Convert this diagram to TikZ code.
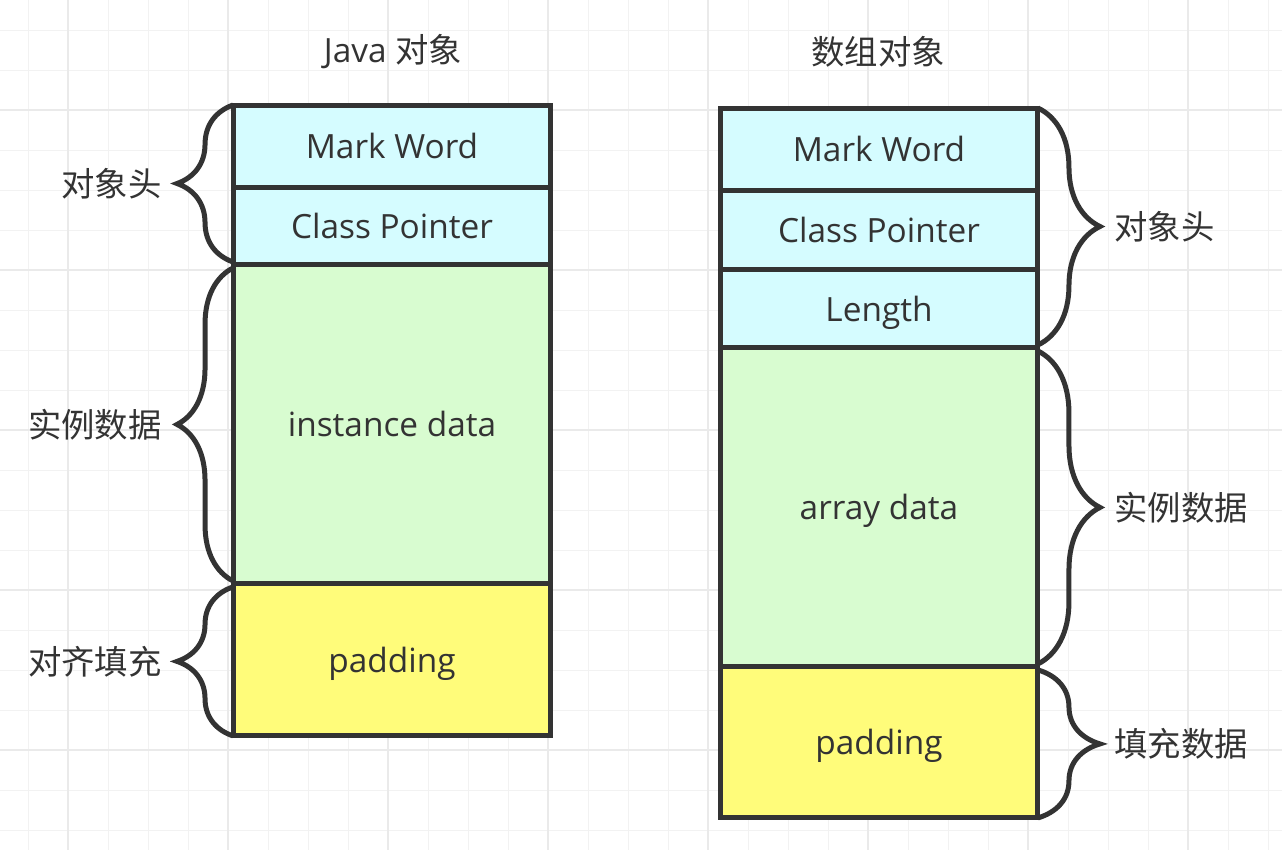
\documentclass[tikz,border=0pt]{standalone}
\usepackage{fontspec}
\setmainfont{Open Sans}
\newfontfamily\cjk{Noto Sans CJK SC}
\usetikzlibrary{positioning,decorations.pathreplacing}
\definecolor{ink}{HTML}{333333}
\definecolor{headcyan}{RGB}{213,252,255}
\definecolor{datagreen}{RGB}{216,252,208}
\definecolor{padyellow}{RGB}{255,252,122}
\definecolor{gridlight}{HTML}{F2F2F2}
\definecolor{griddark}{HTML}{EAEAEA}

\tikzset{
  field/.style={draw=ink, line width=0.1cm, minimum width=6.36cm, inner sep=0pt, outer sep=0pt,
    text=ink, font=\fontsize{19}{23}\selectfont, text height=14pt, text depth=0pt},
  hdr/.style={field, fill=headcyan},
  dat/.style={field, fill=datagreen},
  pad/.style={field, fill=padyellow},
  brc/.style={draw=ink, line width=0.1cm, decorate, decoration={brace, amplitude=#1}},
  lbl/.style={text=ink, font=\cjk\fontsize{19}{23}\selectfont, inner sep=0pt},
  ttl/.style={text=ink, font=\fontsize{19}{23}\selectfont, inner sep=0pt},
  minorline/.style={draw=gridlight, line width=0.02cm},
  majorline/.style={draw=griddark, line width=0.03cm}
}

\begin{document}
\begin{tikzpicture}[x=0.02cm, y=-0.02cm]
	\useasboundingbox (0,0) rectangle (1282,850);
	% background grid
	\foreach \gx in {28,68,...,1268} \draw[minorline] (\gx,0) -- (\gx,850);
	\foreach \gy in {30,70,...,830} \draw[minorline] (0,\gy) -- (1282,\gy);
	\foreach \gx in {68,228,...,1188} \draw[majorline] (\gx,0) -- (\gx,850);
	\foreach \gy in {110,270,...,750} \draw[majorline] (0,\gy) -- (1282,\gy);

	% Java object
	\node[ttl] (jtitle) at (393,52) {Java {\cjk 对象}};
	\node[hdr, minimum height=1.64cm] (jmark) at (392,146) {Mark Word};
	\node[hdr, minimum height=1.56cm, below=0pt of jmark] (jclass) {Class Pointer};
	\node[dat, minimum height=6.38cm, below=0pt of jclass] (jdata) {instance data};
	\node[pad, minimum height=3.04cm, below=0pt of jdata] (jpad) {padding};

	\draw[brc=1.12cm] ([yshift=0.06cm]jclass.south west) -- (jmark.north west)
		node[lbl, midway, left=1.38cm] {对象头};
	\draw[brc=1.12cm] ([yshift=0.06cm]jdata.south west) -- ([yshift=-0.06cm]jdata.north west)
		node[lbl, midway, left=1.38cm] {实例数据};
	\draw[brc=1.12cm] (jpad.south west) -- ([yshift=-0.06cm]jpad.north west)
		node[lbl, midway, left=1.38cm] {对齐填充};

	% array object
	\node[ttl] (atitle) at (878,52) {\cjk 数组对象};
	\node[hdr, minimum height=1.64cm] (amark) at (879,149) {Mark Word};
	\node[hdr, minimum height=1.6cm, below=0pt of amark] (aclass) {Class Pointer};
	\node[hdr, minimum height=1.56cm, below=0pt of aclass] (alen) {Length};
	\node[dat, minimum height=6.38cm, below=0pt of alen] (adata) {array data};
	\node[pad, minimum height=3.02cm, below=0pt of adata] (apad) {padding};

	\draw[brc=1.24cm] (amark.north east) -- ([yshift=0.06cm]alen.south east)
		node[lbl, midway, right=1.48cm] {对象头};
	\draw[brc=1.24cm] ([yshift=-0.06cm]adata.north east) -- ([yshift=0.06cm]adata.south east)
		node[lbl, midway, right=1.48cm] {实例数据};
	\draw[brc=1.24cm] ([yshift=-0.06cm]apad.north east) -- (apad.south east)
		node[lbl, midway, right=1.48cm] {填充数据};
\end{tikzpicture}
\end{document}
